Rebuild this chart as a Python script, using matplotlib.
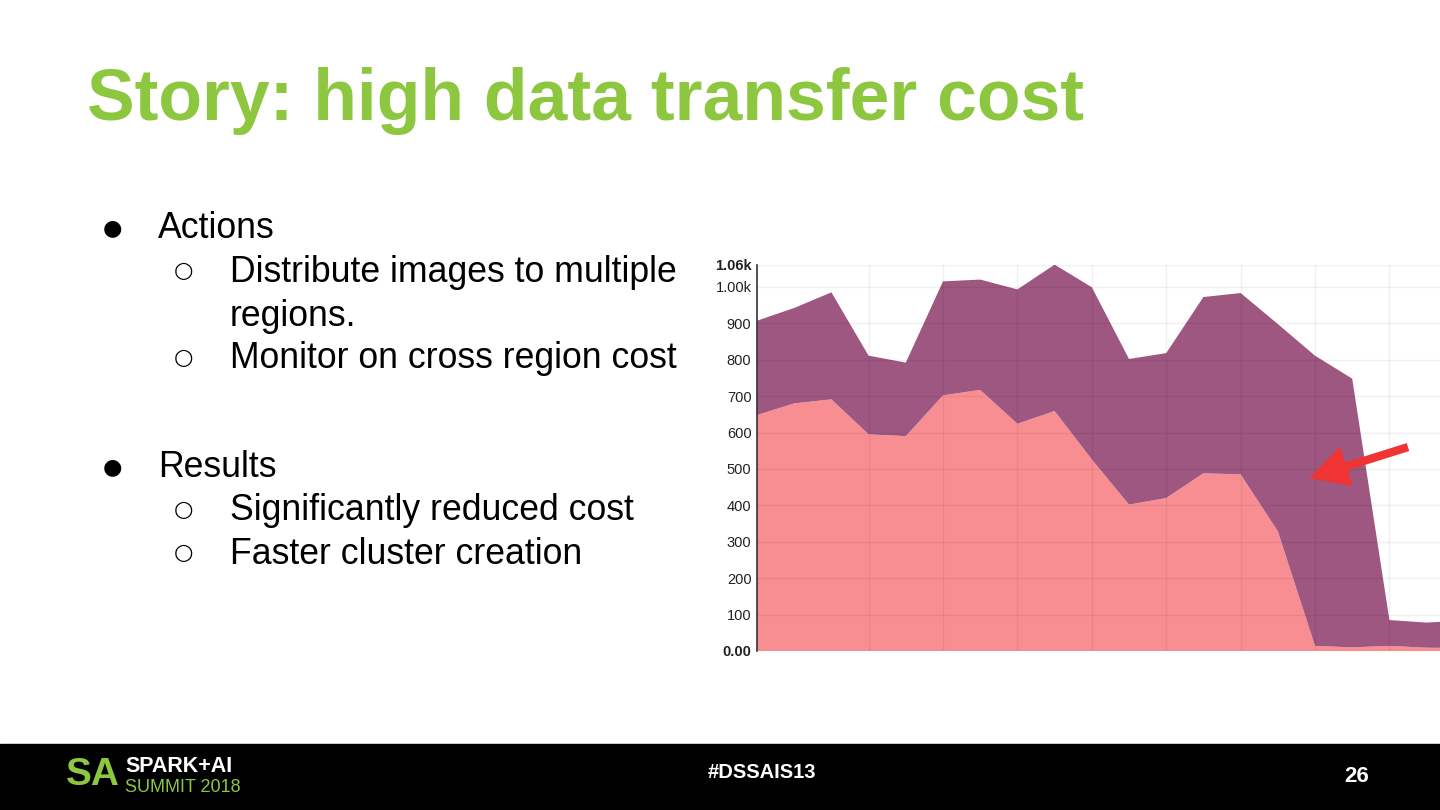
import numpy as np
import matplotlib
matplotlib.use("Agg")
from matplotlib import pyplot as plt
from matplotlib.patches import Rectangle

plt.rcParams['font.family'] = ['Liberation Sans', 'DejaVu Sans']

# data (stacked: pink bottom, purple on top)
total = [907, 942, 985, 811, 792, 1015, 1020, 993, 1061, 999, 802, 818,
         972, 983, 898, 811, 748, 85, 78, 84]
pink = [648, 680, 691, 595, 590, 702, 717, 624, 659, 526, 402, 420,
        488, 485, 329, 14, 10, 14, 9, 8]
purple = [t - p for t, p in zip(total, pink)]
y_ticks = [0, 100, 200, 300, 400, 500, 600, 700, 800, 900, 1000, 1060]
y_labels = ["0.00", "100", "200", "300", "400", "500", "600", "700", "800",
            "900", "1.00k", "1.06k"]

W, H = 1440, 810
fig = plt.figure(figsize=(14.4, 8.1), dpi=100)

def px(x, y):
    return x / W, 1 - y / H

# title
fig.text(*px(87, 101), "Story: high data transfer cost", color="#8DC63F",
         fontsize=51.5, fontweight="bold", va="center", ha="left")

# bullets
body = 25.7
lines = [
    (112, 158, 229, "\u25CF", "Actions"),
    (183, 230, 272, "\u25CB", "Distribute images to multiple"),
    (None, 230, 316, None, "regions."),
    (183, 230, 359, "\u25CB", "Monitor on cross region cost"),
    (112, 158, 468, "\u25CF", "Results"),
    (183, 230, 511, "\u25CB", "Significantly reduced cost"),
    (183, 230, 554, "\u25CB", "Faster cluster creation"),
]
for bx, tx, y, b, t in lines:
    if b is not None:
        fig.text(*px(bx, y - 1), b, fontsize=16, va="center", ha="center",
                 family=["DejaVu Sans"], color="#000000")
    fig.text(*px(tx, y), t, fontsize=body, va="center", ha="left", color="#000000")

# chart
ax = fig.add_axes([757 / W, 1 - 651 / H, 1 - 757 / W, (651 - 265) / H])
x = np.arange(len(total))
ax.stackplot(x, pink, purple, colors=["#F88E92", "#9E5780"], linewidth=0, zorder=1)
ax.set_yticks(y_ticks)
ax.set_yticklabels(y_labels, fontsize=10.5, color="#222222")
for lab in ax.get_yticklabels():
    if lab.get_text() in ("0.00", "1.06k"):
        lab.set_fontweight("bold")
ax.tick_params(axis="y", length=0, pad=4)
ax.set_xticks(np.arange(3, len(total), 2))
ax.tick_params(axis="x", length=0, labelbottom=False)
ax.set_xlim(0, (1440 - 757) / 37.2)
ax.set_ylim(0, 1060)
ax.grid(True, color="#000000", alpha=0.06, linewidth=1, zorder=3)
ax.set_axisbelow(False)
for s in ["top", "right", "bottom"]:
    ax.spines[s].set_visible(False)
ax.spines["left"].set_color("#333333")
ax.spines["left"].set_linewidth(1.2)

# red arrow
ax.annotate("", xy=(14.85, 475), xytext=(17.5, 560),
            arrowprops=dict(arrowstyle="simple,head_length=1.4,head_width=1.5,tail_width=0.3",
                            mutation_scale=20, color="#F03434", linewidth=0,
                            shrinkA=0, shrinkB=0), zorder=5)

# footer
fig.patches.append(Rectangle((0, 0), 1, 1 - 744 / H, transform=fig.transFigure,
                             color="black", zorder=0))
fig.text(*px(93, 775), "SA", color="#8DC63F", fontsize=28, fontweight="bold",
         va="center", ha="center")
fig.text(*px(125, 767), "SPARK+AI", color="white", fontsize=15.5, fontweight="bold",
         va="center", ha="left")
fig.text(*px(125, 787), "SUMMIT 2018", color="#8DC63F", fontsize=13,
         va="center", ha="left")
fig.text(*px(762, 773), "#DSSAIS13", color="white", fontsize=14.5, fontweight="bold",
         va="center", ha="center")
fig.text(*px(1357, 776), "26", color="white", fontsize=16, fontweight="bold",
         va="center", ha="center")

fig.savefig("out.png", dpi=100, facecolor="white")
